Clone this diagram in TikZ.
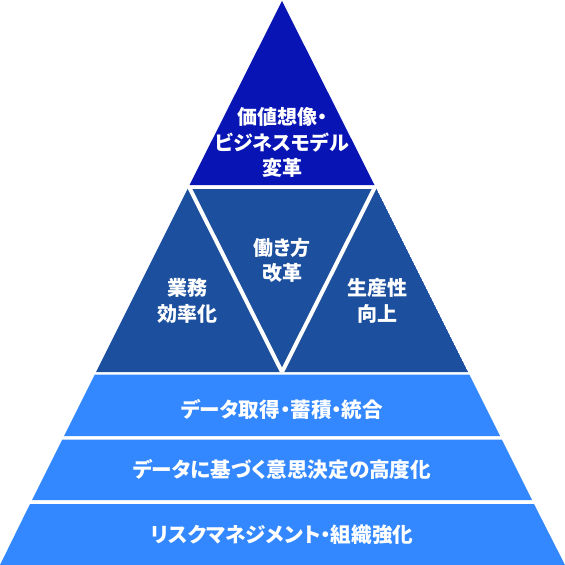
\documentclass[tikz,border=0pt]{standalone}
\usepackage{fontspec}
\usetikzlibrary{calc}
\newfontfamily\jp{Noto Sans CJK JP}[RawFeature=+palt]
\definecolor{topblue}{RGB}{8,20,180}
\definecolor{midblue}{RGB}{28,80,158}
\definecolor{bandblue}{RGB}{51,136,255}
\begin{document}
\begin{tikzpicture}[x=1pt,y=-1pt,
  lbl/.style={text=white,align=center,inner sep=0pt,font=\jp\bfseries\fontsize{20}{25.5}\selectfont},
  bandlbl/.style={lbl,font=\jp\bfseries\fontsize{20.6}{25.5}\selectfont},
  sep/.style={draw=white,line width=4pt}]
\useasboundingbox (0,0) rectangle (565,565);
% top triangle
\fill[topblue] (282,1) -- (374.5,185) -- (189.5,185) -- cycle;
% middle trapezoid
\coordinate (ml) at (187.5,189);
\coordinate (mr) at (376.5,189);
\coordinate (mv) at (282,372);
\begin{scope}
\clip (187.5,189) -- (376.5,189) -- (468,372) -- (96,372) -- cycle;
\fill[midblue] (187.5,189) -- (376.5,189) -- (468,372) -- (96,372) -- cycle;
\draw[sep] ($(ml)+(0,-5)$) -- (mv) -- ($(mr)+(0,-5)$);
\end{scope}
% bands
\fill[bandblue] (94.75,374.5) -- (469.25,374.5) -- (500,436) -- (64,436) -- cycle;
\fill[bandblue] (62.25,439.5) -- (501.75,439.5) -- (532,500) -- (32,500) -- cycle;
\fill[bandblue] (30,504) -- (534,504) -- (565,565) -- (0,565) -- cycle;
% labels
\node[lbl] (t1) at (282,142.5) {価値想像・\\ビジネスモデル\\変革};
\node[lbl] (t2) at (282,260.5) {働き方\\改革};
\node[lbl] (t3) at (187.5,301) {業務\\効率化};
\node[lbl] (t4) at (377.5,301) {生産性\\向上};
\node[bandlbl] (b1) at (282,409.5) {データ取得・蓄積・統合};
\node[bandlbl] (b2) at (282,469.75) {データに基づく意思決定の高度化};
\node[bandlbl] (b3) at (282,534.5) {リスクマネジメント・組織強化};
\end{tikzpicture}
\end{document}
